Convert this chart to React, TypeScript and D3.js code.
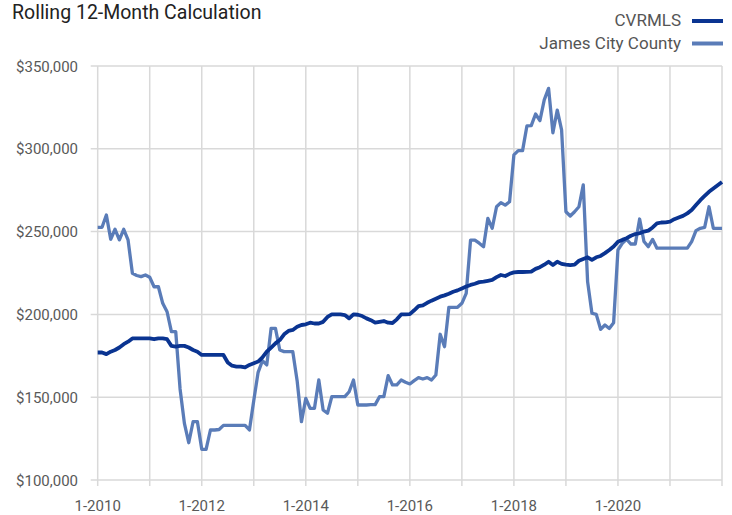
import React, { useEffect, useRef } from 'react';
import * as d3 from 'd3';

// monthly rolling 12-month median, 1-2010 .. 1-2022 (thousands of $)
const cvrmls = [
  177, 177, 176, 177.5, 178.5, 180, 182, 183.5, 185.5, 185.5, 185.5, 185.5,
  185.5, 185, 185.5, 185.5, 185, 181, 180.5, 181, 181, 180, 178.5, 177.5,
  175.5, 175.5, 175.5, 175.5, 175.5, 175.5, 171, 169, 168.5, 168.5, 168, 169.5,
  170.5, 171.5, 174, 177.5, 180, 182.5, 184.5, 188, 190, 190.6, 192.5, 193.6,
  194, 195, 194.5, 194.5, 195.5, 198.5, 200, 200, 200, 199.6, 197.6, 200,
  199.8, 199, 197.6, 196.5, 195, 195.5, 196, 195, 194.8, 197, 200, 200,
  200.2, 202.5, 205, 205.5, 207, 208.3, 209.5, 210.7, 211.5, 212.5, 213.7, 214.5,
  215.7, 216.8, 217.8, 218.5, 219.5, 219.8, 220.3, 220.8, 222.5, 223.8, 223.2, 224.5,
  225.4, 225.6, 225.6, 225.7, 225.8, 227.5, 228.5, 230, 231.8, 229.8, 231.8, 230.5,
  230, 229.8, 230, 232.4, 233.5, 234.5, 232.9, 234.5, 235.3, 237, 238.9, 241,
  243.9, 245, 246, 247.5, 248.5, 249, 250, 250.6, 252.5, 255, 255.5, 255.6,
  256, 257.5, 258.5, 259.5, 261, 263, 266, 269, 271.5, 274, 276, 278,
  280,
];

const jamesCity = [
  252.6, 252.6, 260, 245.4, 251.4, 245, 251.4, 245, 224.8, 223.5, 222.8, 223.8,
  222.4, 216.7, 216.7, 206.7, 201.6, 189.6, 189.6, 155, 134.2, 122.5, 135.2, 135.2,
  118.5, 118.5, 130.2, 130.2, 130.5, 133, 133, 133, 133, 133, 133, 130.2,
  148, 165, 172, 169.5, 191.6, 191.6, 178.5, 177.5, 177.5, 177.5, 160, 135.2,
  149.3, 143.3, 143.3, 160.4, 142.3, 140.3, 150.3, 150.3, 150.3, 150.3, 153.3, 160.4,
  145.3, 145.3, 145.3, 145.5, 145.5, 150.3, 150.3, 163, 157.4, 157.4, 160.4, 159,
  158, 160, 161.8, 161, 161.8, 160.4, 163.4, 188, 180.5, 204.3, 204.3, 204.3,
  206.7, 212.7, 244.9, 244.9, 243, 240.9, 258, 252, 265, 267.5, 266, 268,
  296.3, 298.9, 298.9, 313.8, 314, 321, 317, 329.5, 336.5, 309.7, 323.4, 311.4,
  262, 259.4, 262, 265, 278.2, 219.8, 200.7, 200, 191, 193.6, 191.5, 195,
  238.9, 242.9, 245.3, 242.5, 242.5, 257.6, 244, 240.9, 245.3, 240, 240, 240,
  240, 240, 240, 240, 240, 244, 250.6, 252, 252.6, 265, 252, 252,
  252,
];

const seriesNames = ['CVRMLS', 'James City County'];
const seriesColors = ['#0a3491', '#5a7cb8'];
const yTicks = [100, 150, 200, 250, 300, 350];
const startYear = 2010;
const yearCount = 12;

const App = () => {
  const chartRef = useRef<SVGSVGElement>(null);

  useEffect(() => {
    const width = 732;
    const height = 515;
    const left = 97.7;
    const right = 722;
    const top = 66;
    const bottom = 480;
    const font = 'Roboto, "Liberation Sans", Arial, sans-serif';

    const svg = d3.select(chartRef.current);
    svg.selectAll('*').remove();
    svg.attr('width', width).attr('height', height);

    const x = d3.scaleLinear().domain([0, yearCount * 12]).range([left, right]);
    const y = d3.scaleLinear().domain([100, 350]).range([bottom, top]);

    const grid = '#d9d9d9';
    const yearIdx = d3.range(0, yearCount * 12 + 1, 12);

    // horizontal grid
    svg.append('g').selectAll('line').data(yTicks).enter().append('line')
      .attr('x1', left - 7).attr('x2', right)
      .attr('y1', d => y(d)).attr('y2', d => y(d))
      .attr('stroke', grid).attr('stroke-width', 1.5);

    // vertical grid + ticks
    svg.append('g').selectAll('line').data(yearIdx).enter().append('line')
      .attr('x1', d => x(d)).attr('x2', d => x(d))
      .attr('y1', top).attr('y2', bottom + 6)
      .attr('stroke', grid).attr('stroke-width', 1.5);

    svg.append('g').selectAll('text').data(yTicks).enter().append('text')
      .attr('x', 78).attr('y', d => y(d) + 5.5)
      .attr('text-anchor', 'end')
      .attr('font-family', font).attr('font-size', 15)
      .attr('fill', '#595959')
      .text(d => d3.format('$,')(d * 1000));

    svg.append('g').selectAll('text').data(yearIdx.filter((d, i) => i % 2 === 0 && i < yearCount)).enter().append('text')
      .attr('x', d => x(d)).attr('y', 511)
      .attr('text-anchor', 'middle')
      .attr('font-family', font).attr('font-size', 15)
      .attr('fill', '#595959')
      .text(d => `1-${startYear + d / 12}`);

    const line = d3.line<number>()
      .x((d, i) => x(i))
      .y(d => y(d));

    [jamesCity, cvrmls].forEach((s, k) => {
      const idx = k === 0 ? 1 : 0;
      svg.append('path')
        .datum(s)
        .attr('d', line)
        .attr('fill', 'none')
        .attr('stroke', seriesColors[idx])
        .attr('stroke-width', idx === 0 ? 3.8 : 3.3)
        .attr('stroke-linejoin', 'round');
    });

    // title
    svg.append('text')
      .attr('x', 12).attr('y', 18.5)
      .attr('font-family', font).attr('font-size', 19.5)
      .attr('fill', '#222')
      .text('Rolling 12-Month Calculation');

    // legend
    const legend = svg.append('g').selectAll('g').data(seriesNames).enter().append('g')
      .attr('transform', (d, i) => `translate(0,${21 + i * 22.5})`);
    legend.append('text')
      .attr('x', 681).attr('y', 5)
      .attr('text-anchor', 'end')
      .attr('font-family', font).attr('font-size', 17)
      .attr('fill', '#555')
      .text(d => d);
    legend.append('line')
      .attr('x1', 692).attr('x2', 723)
      .attr('stroke', (d, i) => seriesColors[i])
      .attr('stroke-width', 4);
  }, []);

  return <svg ref={chartRef} style={{ position: 'absolute', left: 0, top: 0 }}></svg>;
};

export default App;
